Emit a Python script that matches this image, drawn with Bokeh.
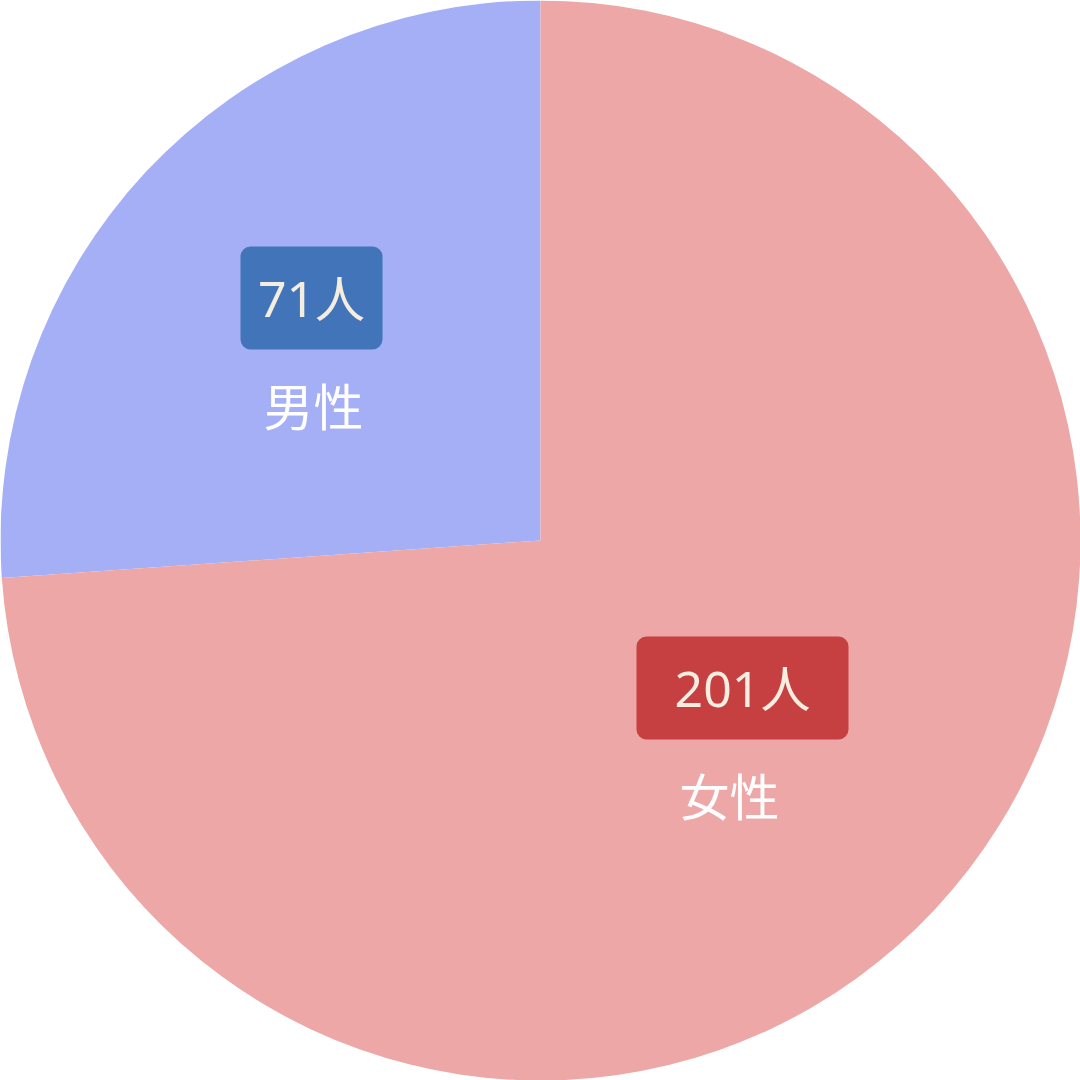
import math
from bokeh.plotting import figure
from bokeh.models import ColumnDataSource
from bokeh.core.properties import value
from bokeh.embed import file_html
from bokeh.resources import INLINE

# ---- data ----
categories = ["男性", "女性"]
counts = [71, 201]
count_labels = ["71人", "201人"]

# ---- styles / layout ----
slice_colors = ["#A5AFF5", "#EDA7A7"]
box_colors = ["#4274B9", "#C63F41"]
box_text_color = "#F5EDDF"
name_text_color = "#FFFFFF"
radius = 540
# label anchors (pixels relative to pie centre, y up)
box_centers = [(-229, 242.5), (202, -147.5)]
box_sizes = [(142, 103), (212, 103)]
name_centers = [(-227, 137), (189, -253)]

total = sum(counts)
starts, ends = [], []
a = math.pi / 2
for c in counts:
    starts.append(a)
    a += 2 * math.pi * c / total
    ends.append(a)

p = figure(width=1080, height=1080, x_range=(-540, 540), y_range=(-540, 540),
           output_backend="svg", toolbar_location=None, min_border=0)
p.axis.visible = False
p.grid.visible = False
p.outline_line_color = None
p.background_fill_color = "white"
p.border_fill_color = "white"

src = ColumnDataSource(dict(start=starts, end=ends, color=slice_colors, cat=categories))
p.wedge(x=0, y=0, radius=radius, start_angle="start", end_angle="end",
        direction="anticlock", fill_color="color", line_color=None, source=src)

bsrc = ColumnDataSource(dict(
    left=[c[0] - s[0] / 2 for c, s in zip(box_centers, box_sizes)],
    right=[c[0] + s[0] / 2 for c, s in zip(box_centers, box_sizes)],
    top=[c[1] + s[1] / 2 for c, s in zip(box_centers, box_sizes)],
    bottom=[c[1] - s[1] / 2 for c, s in zip(box_centers, box_sizes)],
    color=box_colors,
    x=[c[0] for c in box_centers], y=[c[1] for c in box_centers],
    label=count_labels,
))
p.quad(left="left", right="right", top="top", bottom="bottom", fill_color="color",
       line_color=None, border_radius=10, source=bsrc)
p.text(x="x", y="y", text="label", source=bsrc, text_align="center",
       text_baseline="middle", text_color=box_text_color, text_font_size="50px",
       text_font=value("'Noto Sans', 'Noto Sans CJK JP'"))

nsrc = ColumnDataSource(dict(x=[c[0] for c in name_centers], y=[c[1] for c in name_centers],
                             label=categories))
p.text(x="x", y="y", text="label", source=nsrc, text_align="center",
       text_baseline="middle", text_color=name_text_color, text_font_size="50px",
       text_font=value("Noto Sans CJK JP"))

open("out.html", "w").write(file_html(p, INLINE))
